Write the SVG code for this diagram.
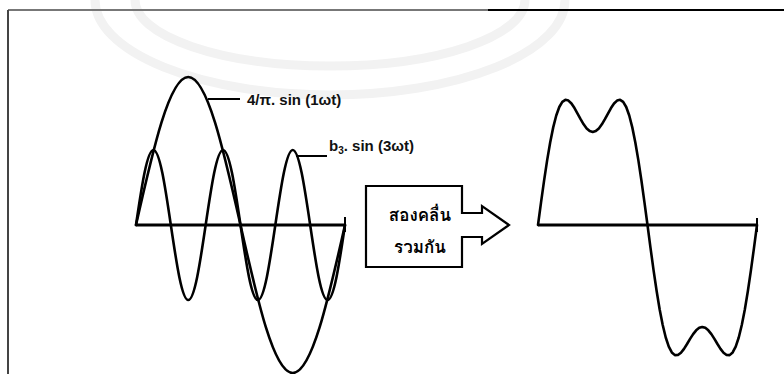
<svg xmlns="http://www.w3.org/2000/svg" width="784" height="374" viewBox="0 0 784 374">
<style>
.wave{fill:none;stroke:#000;stroke-width:2.6;stroke-linejoin:round;stroke-linecap:round}
.axis{fill:none;stroke:#000;stroke-width:3}
.lead{fill:none;stroke:#000;stroke-width:2}
.wm{fill:none;stroke:#f2f2f2;stroke-width:9}
.lbl{font-family:"Liberation Sans",Arial,sans-serif;font-size:15px;font-weight:bold;fill:#111}
.th{font-family:"Loma","Garuda","Tlwg Typo","Norasi","Kinnari","Noto Sans Thai Looped","Noto Sans Thai","Noto Sans","DejaVu Sans",sans-serif;font-size:17px;font-weight:bold;fill:#000}
</style>
<rect width="784" height="374" fill="#fff"/>
<g id="watermark">
<path class="wm" d="M95,0 A235,95 0 0 0 565,0"/>
<path class="wm" d="M135,0 A195,66 0 0 0 525,0"/>
</g>
<g id="frame">
<line x1="8" y1="10" x2="488" y2="10" stroke="#777" stroke-width="2"/>
<line x1="488" y1="10" x2="784" y2="10" stroke="#000" stroke-width="2"/>
<line x1="8" y1="10" x2="8" y2="374" stroke="#444" stroke-width="2"/>
</g>
<g id="left-wave">
<line class="axis" x1="136" y1="225" x2="345" y2="225"/>
<line class="lead" x1="345" y1="217" x2="345" y2="232"/>
<path id="fundamental" class="wave" d="M136,225 C153.04,149.18 169.34,77 188.25,77 C207.16,77 223.46,149.18 240.5,225 C257.54,300.82 273.84,373 292.75,373 C311.66,373 327.96,300.82 345,225"/>
<path id="third" class="wave" d="M136,225 C141.68,186.58 147.11,150 153.42,150 C159.72,150 165.16,186.58 170.83,225 C176.51,263.42 181.94,300 188.25,300 C194.55,300 199.99,263.42 205.67,225 C211.35,186.58 216.78,150 223.08,150 C229.38,150 234.82,186.58 240.5,225 C246.18,263.42 251.61,300 257.92,300 C264.22,300 269.66,263.42 275.33,225 C281.01,186.58 286.44,150 292.75,150 C299.05,150 304.49,186.58 310.17,225 C315.85,263.42 321.28,300 327.58,300 C333.88,300 339.32,263.42 345,225"/>
</g>
<g id="labels">
<line class="lead" x1="208" y1="99" x2="240" y2="99"/>
<text class="lbl" x="247" y="105">4/π. sin (1ωt)</text>
<line class="lead" x1="296" y1="156" x2="327" y2="156"/>
<text class="lbl" x="329" y="151">b<tspan font-size="10" dy="3">3</tspan><tspan dy="-3">. sin (3ωt)</tspan></text>
</g>
<g id="combine-box">
<path d="M366,186 H462 V213 H482 V206 L509,225 L482,244 V237 H462 V267 H366 Z" fill="#fff" stroke="#000" stroke-width="2.2" stroke-linejoin="miter"/>
<text class="th" x="420" y="221" text-anchor="middle">สองคลื่น</text>
<text class="th" x="420" y="253" text-anchor="middle">รวมกัน</text>
</g>
<g id="right-wave">
<line class="axis" x1="538" y1="225" x2="757" y2="225"/>
<line class="lead" x1="757" y1="218" x2="757" y2="232"/>
<polyline class="wave" points="538,225 541.04,202.36 544.08,180.56 547.13,160.36 550.17,142.46 553.21,127.38 556.25,115.5 559.29,106.99 562.33,101.85 565.38,99.84 568.42,100.59 571.46,103.54 574.5,108.09 577.54,113.52 580.58,119.14 583.63,124.3 586.67,128.42 589.71,131.08 592.75,132 595.79,131.08 598.83,128.42 601.88,124.3 604.92,119.14 607.96,113.52 611,108.09 614.04,103.54 617.08,100.59 620.13,99.84 623.17,101.85 626.21,106.99 629.25,115.5 632.29,127.38 635.33,142.46 638.38,160.36 641.42,180.56 644.46,202.36 647.5,225 650.54,248.08 653.58,270.32 656.63,291 659.67,309.42 662.71,325.03 665.75,337.5 668.79,346.62 671.83,352.43 674.88,355.11 677.92,355.04 680.96,352.76 684,348.84 687.04,343.99 690.08,338.88 693.13,334.13 696.17,330.32 699.21,327.86 702.25,327 705.29,327.86 708.33,330.32 711.38,334.13 714.42,338.88 717.46,343.99 720.5,348.84 723.54,352.76 726.58,355.04 729.63,355.11 732.67,352.43 735.71,346.62 738.75,337.5 741.79,325.03 744.83,309.42 747.88,291 750.92,270.32 753.96,248.08 757,225"/>
</g>
</svg>
